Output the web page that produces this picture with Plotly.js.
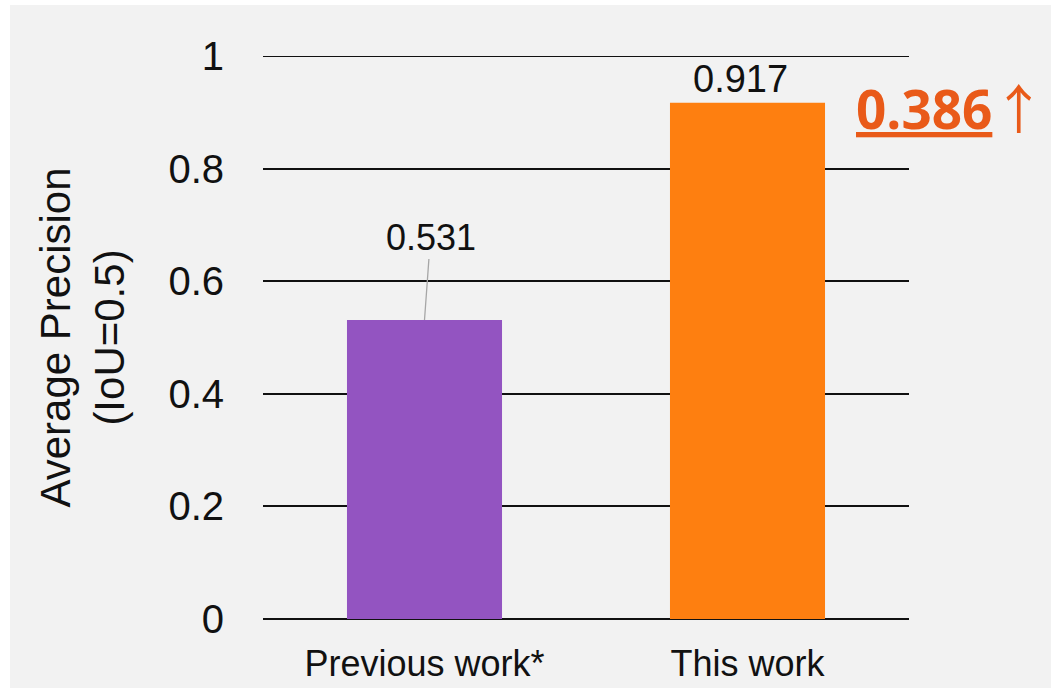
<!DOCTYPE html>
<html>
<head>
<meta charset="utf-8">
<script src="https://cdn.plot.ly/plotly-3.0.1.min.js"></script>
<style>
  html, body { margin: 0; padding: 0; background: #ffffff; }
  #chart { position: absolute; left: 10px; top: 5px; width: 1041px; height: 683px; }
</style>
</head>
<body>
<div id="chart"></div>
<script>
// Average precision of the two detectors
const categories = ["Previous work*", "This work"];
const precision = [0.531, 0.917];
const barColors = ["#9354c1", "#fe7f10"];
const valueLabels = ["0.531", "0.917"];
const gainLabel = "0.386";
const yMax = 1;

const FONT = "'Liberation Sans', Arial, sans-serif";
const GRID = "#111111";

const trace = {
  type: "bar",
  x: categories,
  y: precision,
  marker: { color: barColors },
  hoverinfo: "skip"
};

// Value labels: the first one sits up and to the side with a grey leader line
const annotations = [
  {
    x: categories[0], y: precision[0], xref: "x", yref: "y",
    text: valueLabels[0], showarrow: true, arrowhead: 0, arrowwidth: 1.3,
    arrowcolor: "#a6a6a6", ax: 6, ay: -83, standoff: 0, startstandoff: 0,
    font: { family: FONT, size: 36, color: "#111111" }
  },
  {
    x: categories[1], y: precision[1], xref: "x", yref: "y",
    text: valueLabels[1], showarrow: false, yanchor: "bottom", yshift: 1, xshift: -7,
    font: { family: FONT, size: 38, color: "#111111" }
  },
  {
    x: 1, y: precision[1], xref: "paper", yref: "y",
    xanchor: "left", yanchor: "middle", xshift: -55, yshift: -4,
    text: "<b><u>" + gainLabel + "</u></b><span style=\"font-family:'Noto Sans CJK JP'\">↑</span>",
    showarrow: false,
    font: { family: "'Open Sans', 'Noto Sans', sans-serif", size: 53, color: "#e95a19" }
  }
];

// The top gridline sits on the edge of the range, so it is drawn explicitly
const shapes = [
  {
    type: "line", xref: "paper", yref: "y", x0: 0, x1: 1, y0: yMax, y1: yMax,
    line: { color: GRID, width: 2 }, layer: "below"
  }
];

const layout = {
  width: 1041,
  height: 683,
  paper_bgcolor: "#f2f2f2",
  plot_bgcolor: "#f2f2f2",
  margin: { l: 253, r: 142, t: 51, b: 69 },
  showlegend: false,
  bargap: 0.52,
  font: { family: FONT, color: "#111111" },
  xaxis: {
    type: "category",
    showline: false,
    showgrid: false,
    ticks: "",
    ticklabelstandoff: 20,
    tickfont: { family: FONT, size: 36, color: "#111111" },
    fixedrange: true
  },
  yaxis: {
    range: [0, yMax],
    dtick: 0.2,
    tick0: 0,
    showgrid: true,
    gridcolor: GRID,
    gridwidth: 2,
    zeroline: true,
    zerolinecolor: GRID,
    zerolinewidth: 2,
    showline: false,
    ticks: "",
    ticklabelstandoff: 38,
    tickfont: { family: FONT, size: 40, color: "#111111" },
    title: {
      text: "Average Precision<br>(IoU=0.5)",
      font: { family: FONT, size: 42, color: "#111111" },
      standoff: 30
    },
    fixedrange: true
  },
  shapes: shapes,
  annotations: annotations
};

Plotly.newPlot("chart", [trace], layout, { displayModeBar: false, staticPlot: true });
</script>
</body>
</html>
